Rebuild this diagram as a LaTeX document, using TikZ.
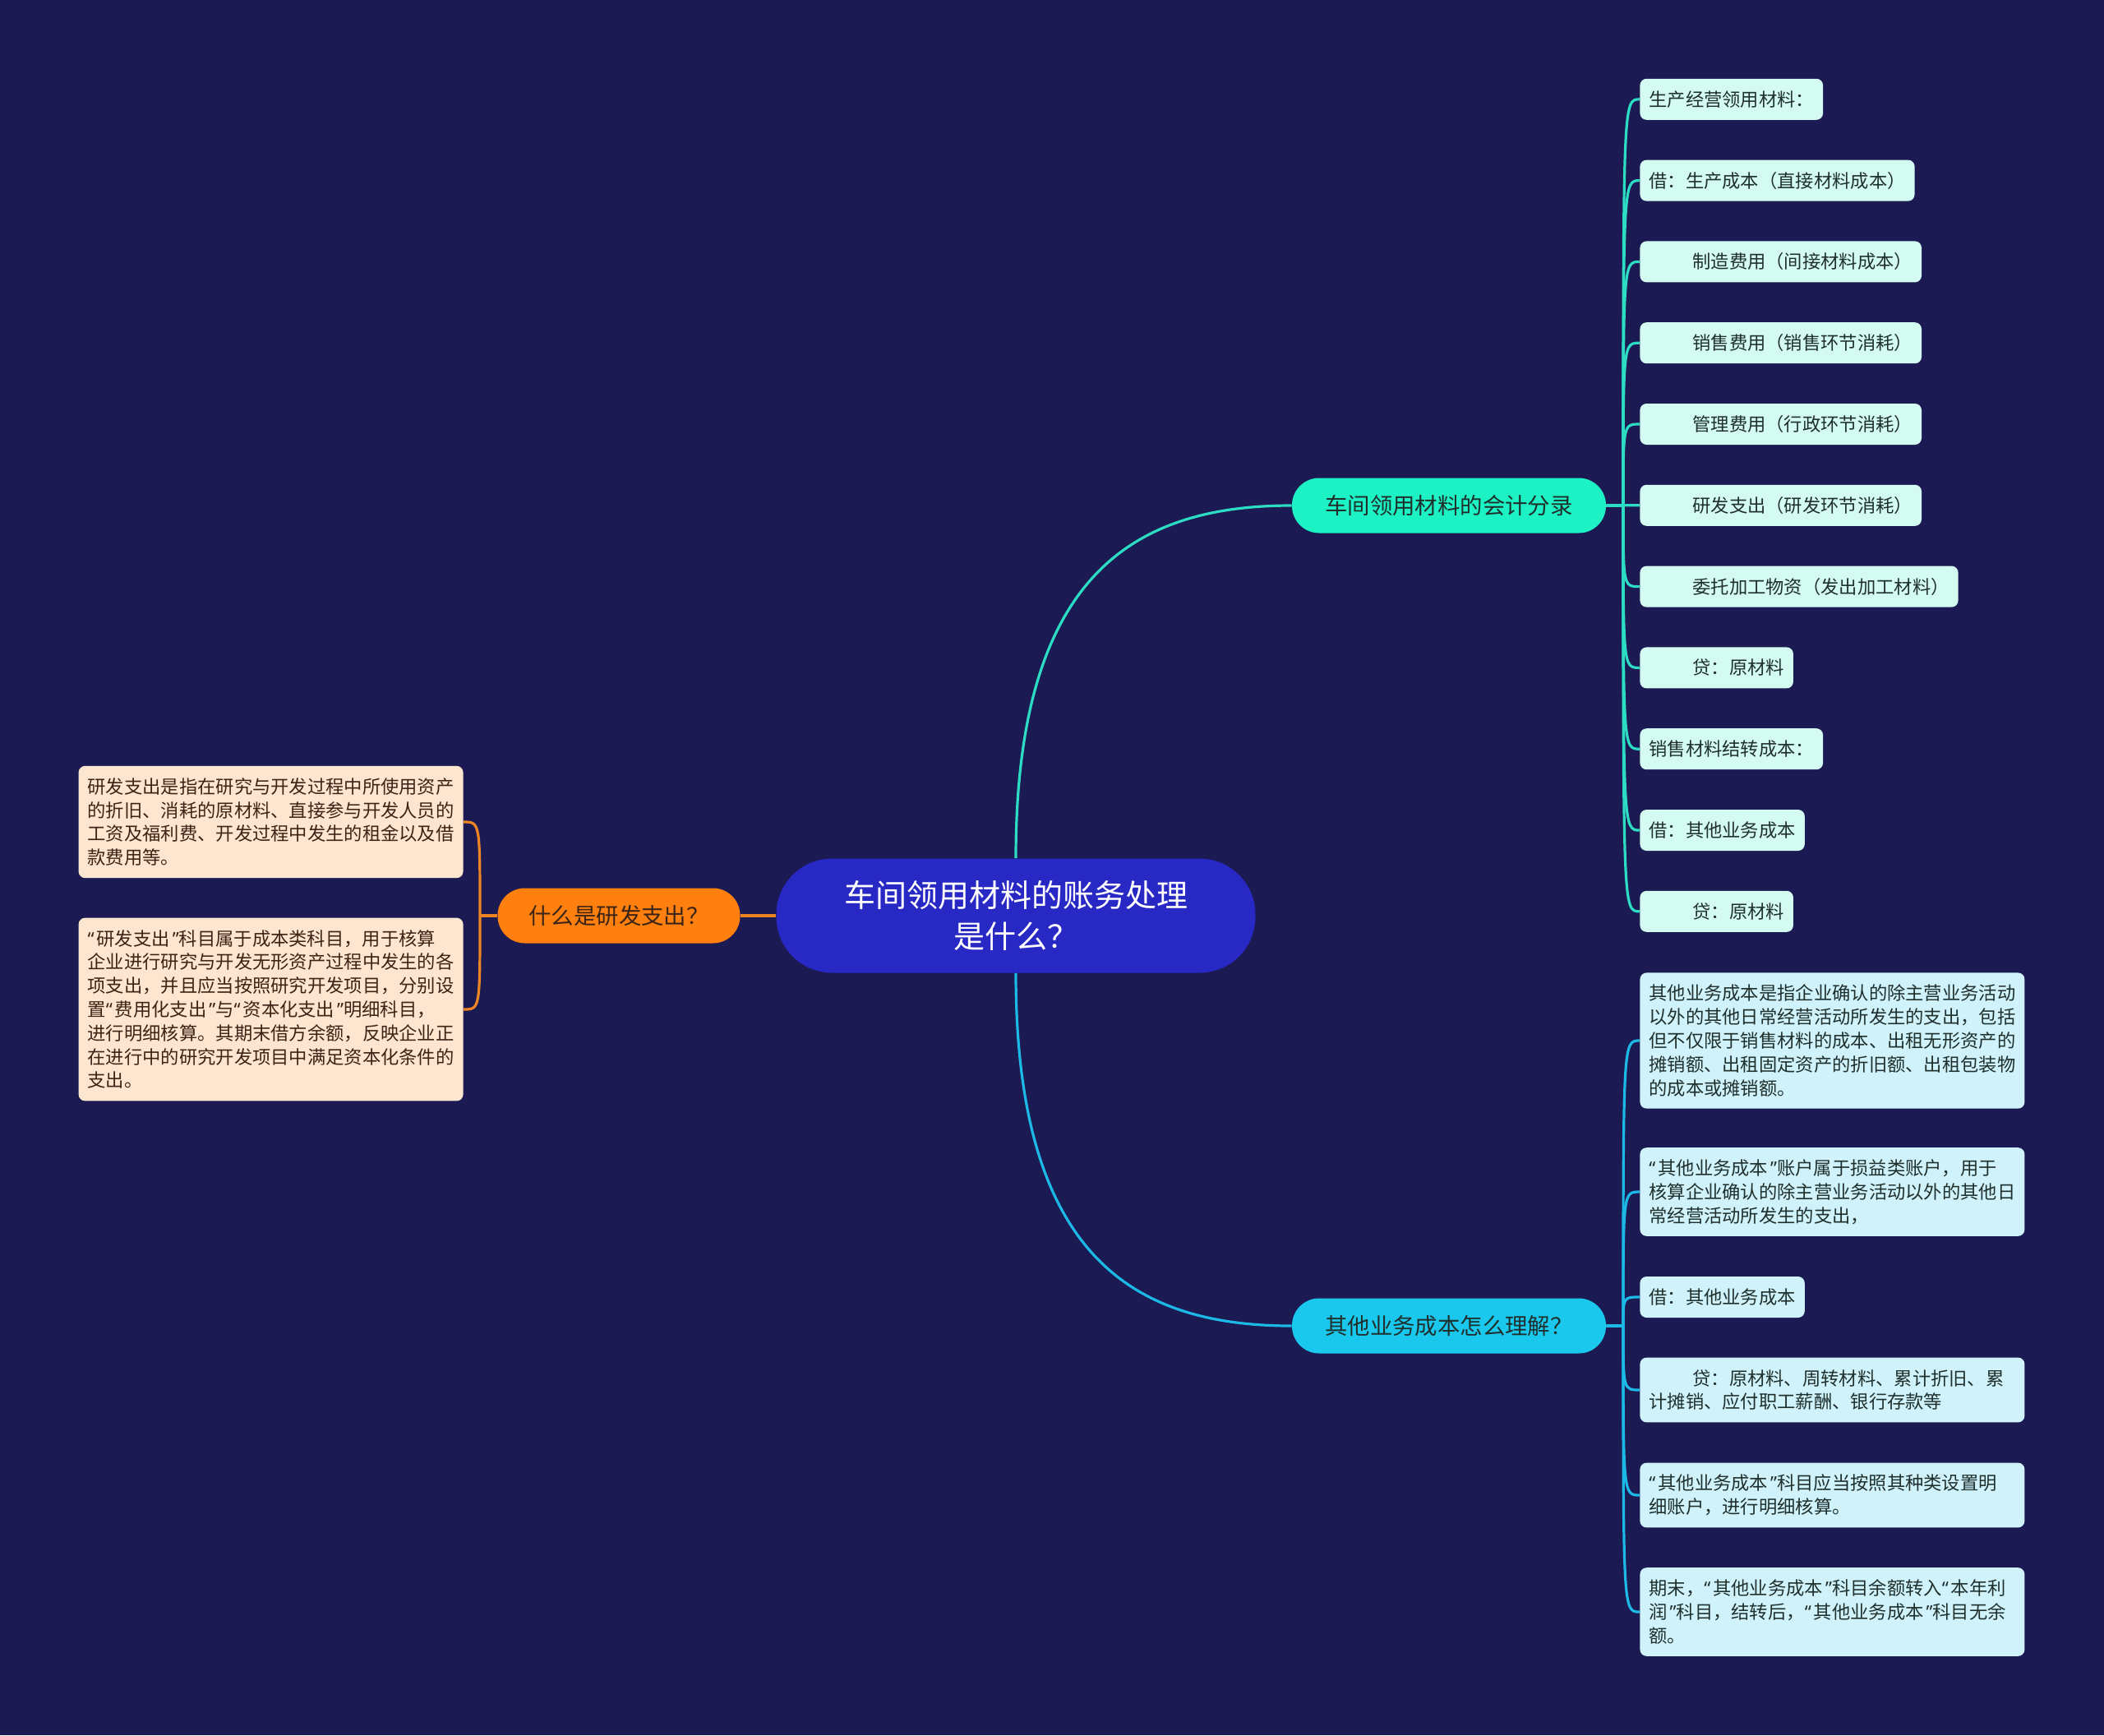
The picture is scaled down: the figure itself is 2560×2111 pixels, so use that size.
\documentclass[tikz,border=0pt]{standalone}
\usepackage{fontspec}
\setmainfont{Noto Sans CJK SC}
\newfontfamily\quotefont{Noto Sans}
\usetikzlibrary{arrows.meta}

\definecolor{bgnavy}{HTML}{1B1A53}
\definecolor{rootblue}{HTML}{2828C4}
\definecolor{tealbr}{HTML}{1DF2C4}
\definecolor{tealln}{HTML}{2CDDC4}
\definecolor{cyanbr}{HTML}{1AC8EE}
\definecolor{cyanln}{HTML}{1CB9E6}
\definecolor{orangebr}{HTML}{FF7F0F}
\definecolor{orangeln}{HTML}{EC8424}
\definecolor{mintleaf}{HTML}{D3FBF1}
\definecolor{iceleaf}{HTML}{D0F3FB}
\definecolor{peachleaf}{HTML}{FDE6CF}
\definecolor{darkink}{HTML}{1F2F2C}
\definecolor{brownink}{HTML}{3B2416}

\newcommand{\leafindent}{\hspace*{26.5pt}}
% narrow curly quotes, as in the picture
\newcommand{\oq}{{\quotefont “}\kern1.5pt}
\newcommand{\cq}{\kern1.5pt{\quotefont ”}}

\begin{document}
\begin{tikzpicture}[x=0.5pt,y=-0.5pt,
  root/.style={fill=rootblue, text=white, rounded corners=34pt, minimum width=291.5pt,
    minimum height=69.5pt, align=center, font=\fontsize{19}{25.3}\selectfont},
  branch/.style={rounded corners=16.5pt, minimum height=33.5pt, inner xsep=0pt,
    text=darkink, font=\fontsize{13.7}{16}\selectfont},
  leaf/.style={rounded corners=4pt, inner xsep=5.5pt, inner ysep=2pt, minimum height=25pt,
    align=left, text=darkink, font=\fontsize{11.15}{14.4}\selectfont},
  nrows/.style={minimum height={#1*14.4pt+10.6pt}},
  wide/.style={text width=223pt},
  tleaf/.style={leaf, anchor=west, fill=mintleaf},
  cleaf/.style={leaf, anchor=west, fill=iceleaf, wide},
  oleaf/.style={leaf, anchor=east, fill=peachleaf, text=brownink, wide},
  wire/.style={line width=1.6pt},
  tealwire/.style={wire, draw=tealln},
  cyanwire/.style={wire, draw=cyanln},
  orangewire/.style={wire, draw=orangeln}]

  % background and page size
  \fill[bgnavy] (0,0) rectangle (2560,2111);
  \useasboundingbox (0,0) rectangle (2560,2111);

  % centre topic and the three main topics
  \node[root] (root) at (1236,1114) {车间领用材料的账务处理\\是什么？};
  \node[branch, fill=tealbr, minimum width=191pt] (entry) at (1763,615) {车间领用材料的会计分录};
  \node[branch, fill=cyanbr, minimum width=191pt] (other) at (1763,1613) {其他业务成本怎么理解？};
  \node[branch, fill=orangebr, text=brownink, minimum width=147.5pt] (rd) at (753,1114) {什么是研发支出？};

  % journal entries (top right)
  \foreach \txt [count=\i from 0] in {生产经营领用材料：, 借：生产成本（直接材料成本）,
      \leafindent 制造费用（间接材料成本）, \leafindent 销售费用（销售环节消耗）,
      \leafindent 管理费用（行政环节消耗）, \leafindent 研发支出（研发环节消耗）,
      \leafindent 委托加工物资（发出加工材料）, \leafindent 贷：原材料,
      销售材料结转成本：, 借：其他业务成本, \leafindent 贷：原材料}
    \node[tleaf] (e\i) at (1995,120.8+98.8*\i) {\txt};

  % other business cost (bottom right)
  \node[cleaf, nrows=5] (o1) at (1995,1266) {其他业务成本是指企业确认的除主营业务活动\\以外的其他日常经营活动所发生的支出，包括\\但不仅限于销售材料的成本、出租无形资产的\\摊销额、出租固定资产的折旧额、出租包装物\\的成本或摊销额。};
  \node[cleaf, nrows=3] (o2) at (1995,1450) {\oq 其他业务成本\cq 账户属于损益类账户，用于\\核算企业确认的除主营业务活动以外的其他日\\常经营活动所发生的支出，};
  \node[leaf, anchor=west, fill=iceleaf] (o3) at (1995,1578) {借：其他业务成本};
  \node[cleaf, nrows=2] (o4) at (1995,1691) {\leafindent 贷：原材料、周转材料、累计折旧、累\\计摊销、应付职工薪酬、银行存款等};
  \node[cleaf, nrows=2] (o5) at (1995,1819) {\oq 其他业务成本\cq 科目应当按照其种类设置明\\细账户，进行明细核算。};
  \node[cleaf, nrows=3] (o6) at (1995,1961) {期末，\oq 其他业务成本\cq 科目余额转入\oq 本年利\\润\cq 科目，结转后，\oq 其他业务成本\cq 科目无余\\额。};

  % R&D expenditure (left)
  \node[oleaf, nrows=4] (r1) at (564,1000) {研发支出是指在研究与开发过程中所使用资产\\的折旧、消耗的原材料、直接参与开发人员的\\工资及福利费、开发过程中发生的租金以及借\\款费用等。};
  \node[oleaf, nrows=7] (r2) at (564,1228) {\oq 研发支出\cq 科目属于成本类科目，用于核算\\企业进行研究与开发无形资产过程中发生的各\\项支出，并且应当按照研究开发项目，分别设\\置\oq 费用化支出\cq 与\oq 资本化支出\cq 明细科目，\\进行明细核算。其期末借方余额，反映企业正\\在进行中的研究开发项目中满足资本化条件的\\支出。};

  % connectors
  \draw[tealwire] (root.north) .. controls +(0,-345) and +(-192,0) .. (entry.west);
  \draw[cyanwire] (root.south) .. controls +(0,345) and +(-192,0) .. (other.west);
  \draw[orangewire] (root.west) -- (rd.east);

  \coordinate (ehub) at (1975,615);
  \coordinate (ohub) at (1975,1613);
  \coordinate (rhub) at (584,1114);
  \draw[tealwire] (entry.east) -- (ehub);
  \foreach \i in {0,...,10}
    \draw[tealwire] (ehub) .. controls (ehub |- e\i.west) .. (e\i.west);
  \draw[cyanwire] (other.east) -- (ohub);
  \foreach \n in {o1,o2,o3,o4,o5,o6}
    \draw[cyanwire] (ohub) .. controls (ohub |- \n.west) .. (\n.west);
  \draw[orangewire] (rd.west) -- (rhub);
  \foreach \n in {r1,r2}
    \draw[orangewire] (rhub) .. controls (rhub |- \n.east) .. (\n.east);

\end{tikzpicture}
\end{document}
